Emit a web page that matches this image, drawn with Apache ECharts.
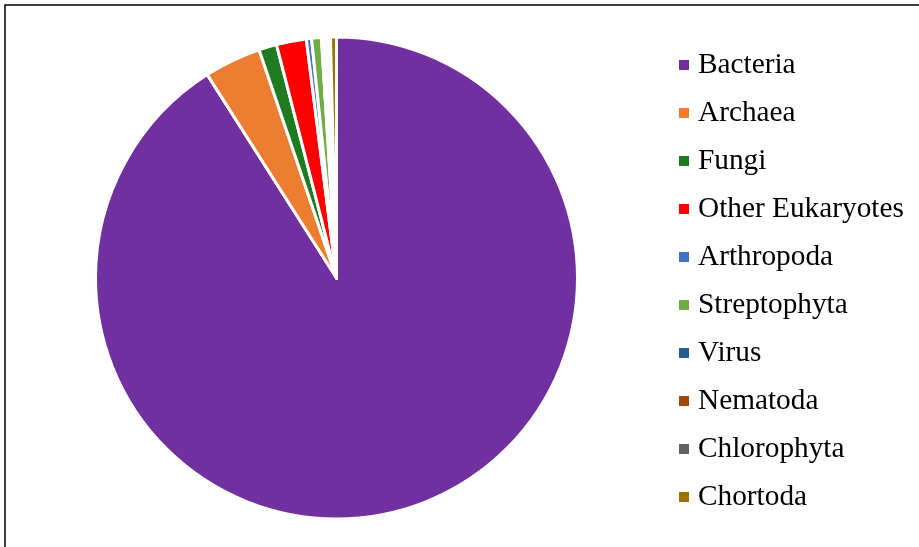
<!DOCTYPE html>
<html>
<head>
<meta charset="utf-8">
<style>
  html, body { margin: 0; padding: 0; background: #ffffff; }
  #chart { width: 919px; height: 547px; }
</style>
<script src="https://cdn.jsdelivr.net/npm/echarts@6/dist/echarts.min.js"></script>
</head>
<body>
<div id="chart"></div>
<script>
// Relative abundance (%) of taxonomic groups
const groups = ['Bacteria', 'Archaea', 'Fungi', 'Other Eukaryotes', 'Arthropoda',
                'Streptophyta', 'Virus', 'Nematoda', 'Chlorophyta', 'Chortoda'];
const abundance = [90.9, 3.8, 1.2, 2.0, 0.35, 0.65, 0.2, 0.2, 0.2, 0.4];
const palette = ['#7030A0', '#ED7D31', '#1E7B22', '#FF0000', '#4472C4',
                 '#70AD47', '#255E91', '#9E480E', '#636363', '#997300'];

const chart = echarts.init(document.getElementById('chart'), null, { renderer: 'canvas' });

chart.setOption({
  animation: false,
  backgroundColor: '#ffffff',
  color: palette,
  legend: {
    orient: 'vertical',
    left: 679,
    top: 50,
    padding: 0,
    itemGap: 18,
    itemWidth: 10,
    itemHeight: 10,
    icon: 'rect',
    selectedMode: false,
    data: groups,
    itemStyle: { borderWidth: 0 },
    textStyle: {
      fontFamily: '"Liberation Serif", "Times New Roman", serif',
      fontSize: 29.3,
      color: '#000000',
      lineHeight: 30,
      padding: [0, 0, 0, 4]
    }
  },
  graphic: [{
    type: 'rect',
    shape: { x: 5, y: 5, width: 1000, height: 1000 },
    style: { fill: 'none', stroke: '#000000', lineWidth: 1.5 },
    silent: true
  }],
  series: [{
    type: 'pie',
    center: [336.5, 278],
    radius: [0, 241],
    startAngle: 90,
    clockwise: true,
    label: { show: false },
    labelLine: { show: false },
    emphasis: { disabled: true },
    itemStyle: { borderColor: '#ffffff', borderWidth: 3 },
    data: groups.map((name, i) => ({ name: name, value: abundance[i] }))
  }]
});
</script>
</body>
</html>
